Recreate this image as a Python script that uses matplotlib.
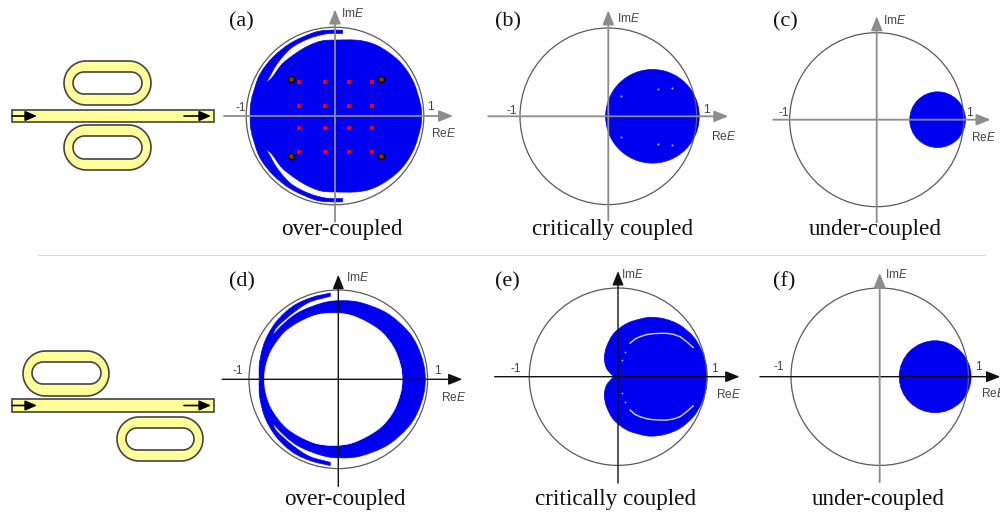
import matplotlib
matplotlib.use("Agg")
import matplotlib.pyplot as plt
from matplotlib.patches import Circle, PathPatch, Polygon
from matplotlib.path import Path
import numpy as np

plt.rcParams["font.family"] = "Liberation Sans"
plt.rcParams["mathtext.fontset"] = "custom"
plt.rcParams["mathtext.it"] = "Liberation Sans:italic"
plt.rcParams["mathtext.rm"] = "Liberation Sans"

BLUE = "#0000f0"
GRAY = "#8c8c8c"
BLACK = "#111111"
RING = "#5a5a5a"
SERIF = "Liberation Serif"

letters = ["(a)", "(b)", "(c)", "(d)", "(e)", "(f)"]
captions = ["over-coupled", "critically coupled", "under-coupled",
            "over-coupled", "critically coupled", "under-coupled"]

# contornos, mitad superior (Re, Im)
a_disc_re = [0.975, 0.96, 0.88, 0.73, 0.50, 0.28, 0.0, -0.15, -0.30, -0.45, -0.60, -0.72, -0.85, -0.94, -0.955]
a_disc_im = [0.0, 0.14, 0.39, 0.61, 0.78, 0.85, 0.855, 0.845, 0.79, 0.70, 0.58, 0.42, 0.32, 0.18, 0.0]
a_cres_out_re = [0.086, -0.10, -0.25, -0.50, -0.70, -0.85, -0.94]
a_cres_out_im = [0.966, 0.965, 0.935, 0.82, 0.66, 0.46, 0.20]
a_cres_in_re = [-0.86, -0.75, -0.65, -0.50, -0.30, -0.10, 0.086]
a_cres_in_im = [0.25, 0.42, 0.59, 0.76, 0.87, 0.925, 0.93]
a_red_re = [-0.40, -0.11, 0.155, 0.415]
a_red_im = [0.38, 0.11, -0.14, -0.41]
a_dark_re = [-0.50, 0.517, -0.50, 0.517]
a_dark_im = [0.42, 0.42, -0.45, -0.45]

b_disc = (0.50, 0.0, 0.53)
b_holes_re = [0.566, 0.72, 0.147, 0.147, 0.566, 0.72]
b_holes_im = [0.305, 0.317, 0.23, -0.24, -0.317, -0.33]

c_disc = (0.70, 0.0, 0.32)

d_out_re = [0.974, 0.953, 0.882, 0.769, 0.546, 0.26, 0.043, -0.17, -0.46, -0.683, -0.796, -0.867, -0.887]
d_out_im = [0.0, 0.18, 0.38, 0.55, 0.74, 0.856, 0.88, 0.856, 0.74, 0.55, 0.38, 0.18, 0.0]
d_in_re = [0.714, 0.695, 0.613, 0.454, 0.18, -0.056, -0.293, -0.566, -0.734, -0.808, -0.826]
d_in_im = [0.0, 0.16, 0.367, 0.554, 0.704, 0.74, 0.704, 0.554, 0.348, 0.16, 0.0]
d_cres_out_re = [-0.09, -0.30, -0.505, -0.69, -0.82, -0.88, -0.887]
d_cres_out_im = [0.966, 0.915, 0.82, 0.65, 0.43, 0.20, 0.05]
d_cres_in_re = [-0.85, -0.80, -0.74, -0.69, -0.505, -0.32, -0.09]
d_cres_in_im = [0.05, 0.30, 0.47, 0.58, 0.745, 0.865, 0.93]

e_out_re = [1.005, 0.995, 0.94, 0.85, 0.70, 0.53, 0.37, 0.25, 0.10, -0.045, -0.128, -0.154, -0.128, -0.05]
e_out_im = [0.0, 0.13, 0.30, 0.45, 0.58, 0.65, 0.67, 0.65, 0.60, 0.49, 0.34, 0.207, 0.094, 0.0]
e_gap_re = [0.135, 0.192, 0.248, 0.323, 0.398, 0.474, 0.549, 0.624, 0.70, 0.774, 0.85]
e_gap_im = [0.376, 0.425, 0.451, 0.474, 0.485, 0.489, 0.489, 0.477, 0.451, 0.395, 0.327]
e_specks_re = [0.04, 0.08]
e_specks_im = [0.188, 0.282]

f_disc = (0.625, 0.0, 0.405)


def mirrored(re, im):
    return np.column_stack([re + re[-2:0:-1], im + [-v for v in im[-2:0:-1]]])


def smooth(pts, corners=()):
    # curva cerrada por los puntos leidos, con esquinas en los indices dados
    pts = np.asarray(pts, float)
    n = len(pts)
    verts = [pts[0]]
    codes = [Path.MOVETO]
    for i in range(n):
        j = (i + 1) % n
        t_out = (pts[j] - pts[(i - 1) % n]) / 6
        t_in = (pts[(j + 1) % n] - pts[i]) / 6
        if i in corners:
            t_out = (pts[j] - pts[i]) / 3
        if j in corners:
            t_in = (pts[j] - pts[i]) / 3
        verts += [pts[i] + t_out, pts[j] - t_in, pts[j]]
        codes += [Path.CURVE4] * 3
    return Path(verts, codes)


def blob(ax, pts, color=BLUE, z=2, corners=()):
    ax.add_patch(PathPatch(smooth(pts, corners), fc=color, ec=color, lw=0.5, zorder=z))


def crescent(ax, out_re, out_im, in_re, in_im):
    re = out_re + in_re
    im = out_im + in_im
    n = len(out_re)
    tips = (0, n - 1, n, len(re) - 1)
    blob(ax, np.column_stack([re, im]), corners=tips)
    blob(ax, np.column_stack([re, [-v for v in im]]), corners=tips)


def panel(cx, cy, radius, x_span, y_span, x_col, y_col, re_pos, im_pos, m1_pos, p1_pos):
    half = 1.6 * radius
    ax = fig.add_axes([(cx - half) / 1000, 1 - (cy + half) / 512, 2 * half / 1000, 2 * half / 512])
    ax.set_xlim(-1.6, 1.6)
    ax.set_ylim(-1.6, 1.6)
    ax.axis("off")
    ax.patch.set_alpha(0)
    ax.add_patch(Circle((0, 0), 1, fill=False, ec=RING, lw=0.9, zorder=3))
    style = dict(arrowstyle="-|>,head_length=0.5,head_width=0.2", mutation_scale=17,
                 shrinkA=0, shrinkB=0)
    ax.annotate("", xy=(x_span[1], 0), xytext=(x_span[0], 0), zorder=5,
                arrowprops=dict(color=x_col, lw=1.3 if x_col == GRAY else 1.0, **style))
    ax.annotate("", xy=(0, y_span[1]), xytext=(0, y_span[0]), zorder=5,
                arrowprops=dict(color=y_col, lw=1.3 if y_col == GRAY else 1.0, **style))
    kw = dict(ha="center", va="center", fontsize=8.6, color="#444444")
    ax.text(*m1_pos, "-1", **kw)
    ax.text(*p1_pos, "1", **kw)
    ax.text(*re_pos, "Re$E$", **kw)
    ax.text(*im_pos, "Im$E$", **kw)
    return ax


fig = plt.figure(figsize=(10, 5.12), dpi=100)
bg = fig.add_axes([0, 0, 1, 1])
bg.set_xlim(0, 1000)
bg.set_ylim(512, 0)
bg.axis("off")

bg.plot([38, 985], [255, 255], color="#d8d8d8", lw=0.8)


# esquemas de los resonadores
def stadium(x0, x1, y0, y1, fc):
    r = (y1 - y0) / 2
    ang = np.linspace(-90, 90, 40) * np.pi / 180
    xs = np.r_[x1 - r + r * np.cos(ang), x0 + r - r * np.cos(ang)]
    ys = np.r_[y0 + r + r * np.sin(ang), y0 + r - r * np.sin(ang)]
    bg.add_patch(Polygon(np.column_stack([xs, ys]), closed=True, fc=fc, ec="#444444", lw=1.2))


def racetrack(x0, x1, y0, y1, ix0, ix1, iy0, iy1):
    stadium(x0, x1, y0, y1, "#ffff99")
    stadium(ix0, ix1, iy0, iy1, "white")


def guide(y0, y1):
    mid = (y0 + y1) / 2
    bg.add_patch(plt.Rectangle((12, y0), 202, y1 - y0, fc="#ffff99", ec="#444444", lw=1.2))
    for xa, xb in [(12, 37), (184, 211)]:
        bg.annotate("", xy=(xb, mid), xytext=(xa, mid),
                    arrowprops=dict(arrowstyle="-|>,head_length=0.7,head_width=0.3", color="black",
                                    mutation_scale=10, shrinkA=0, shrinkB=0, lw=1.2))


racetrack(64, 151, 61, 105, 73, 142, 72, 94)
racetrack(64, 151, 125, 170, 73, 142, 136, 159)
guide(110, 122)
racetrack(23, 109, 351, 396, 32, 101, 362, 384)
racetrack(117, 203, 417, 461, 126, 194, 428, 450)
guide(399, 412)

letter_xy = [(241, 22), (508, 22), (785, 22), (242, 282), (507, 282), (784, 282)]
caption_xy = [(342, 229), (613, 229), (875, 229), (345, 500), (616, 500), (878, 500)]
for s, (x, y) in zip(letters, letter_xy):
    bg.text(x, y, s, family=SERIF, fontsize=16, ha="center", va="center", color="#111111")
for s, (x, y) in zip(captions, caption_xy):
    bg.text(x, y, s, family=SERIF, fontsize=16.7, ha="center", va="center", color="#111111")

# (a)
ax = panel(335, 116, 88.8, (-1.25, 1.33), (-1.19, 1.2), GRAY, GRAY, (1.22, -0.2), (0.2, 1.15), (-1.06, 0.09), (1.07, 0.10))
blob(ax, mirrored(a_disc_re, a_disc_im))
crescent(ax, a_cres_out_re, a_cres_out_im, a_cres_in_re, a_cres_in_im)
ax.scatter([x for x in a_red_re for _ in a_red_im], a_red_im * 4, s=5, c="#f00000", marker="s", lw=0, zorder=6)
ax.scatter(a_dark_re, a_dark_im, s=20, c="#8a2c00", edgecolors="black", lw=1.0, zorder=6)

# (b)
ax = panel(608.3, 116.3, 88.3, (-1.36, 1.36), (-1.18, 1.2), GRAY, GRAY, (1.31, -0.23), (0.23, 1.11), (-1.09, 0.06), (1.11, 0.07))
ax.add_patch(Circle(b_disc[:2], b_disc[2], fc=BLUE, ec=BLUE, lw=0.5, zorder=2))
ax.scatter(b_holes_re, b_holes_im, s=2, c="#c0c0ff", lw=0, zorder=4)

# (c)
ax = panel(876.7, 119.7, 87, (-1.19, 1.31), (-1.18, 1.19), GRAY, GRAY, (1.23, -0.21), (0.21, 1.14), (-1.07, 0.08), (1.06, 0.08))
ax.add_patch(Circle(c_disc[:2], c_disc[2], fc=BLUE, ec=BLUE, lw=0.5, zorder=2))

# (d)
ax = panel(338.3, 379.3, 89.3, (-1.3, 1.39), (-1.2, 1.17), BLACK, BLACK, (1.29, -0.2), (0.22, 1.14), (-1.13, 0.09), (1.11, 0.09))
blob(ax, mirrored(d_out_re, d_out_im))
crescent(ax, d_cres_out_re, d_cres_out_im, d_cres_in_re, d_cres_in_im)
blob(ax, mirrored(d_in_re, d_in_im), color="white", z=2.5)

# (e)
ax = panel(618, 376.7, 88.7, (-1.39, 1.37), (-1.2, 1.19), BLACK, BLACK, (1.25, -0.2), (0.17, 1.15), (-1.15, 0.09), (1.09, 0.09))
blob(ax, mirrored(e_out_re, e_out_im), corners=(len(e_out_re) - 1,))
for sign in (1, -1):
    ax.plot(e_gap_re, [sign * v for v in e_gap_im], color="white", lw=1.0, alpha=0.85,
            zorder=2.5, solid_capstyle="round")
    ax.scatter(e_specks_re, [sign * v for v in e_specks_im], s=1.5, c="#c0c0ff", lw=0, zorder=2.5)

# (f)
ax = panel(879.7, 376.7, 88.7, (-1.35, 1.36), (-1.19, 1.17), BLACK, GRAY, (1.28, -0.195), (0.19, 1.15), (-1.14, 0.11), (1.11, 0.11))
ax.add_patch(Circle(f_disc[:2], f_disc[2], fc=BLUE, ec=BLUE, lw=0.5, zorder=2))

fig.savefig("out.png", dpi=100, facecolor="white")
plt.close(fig)
